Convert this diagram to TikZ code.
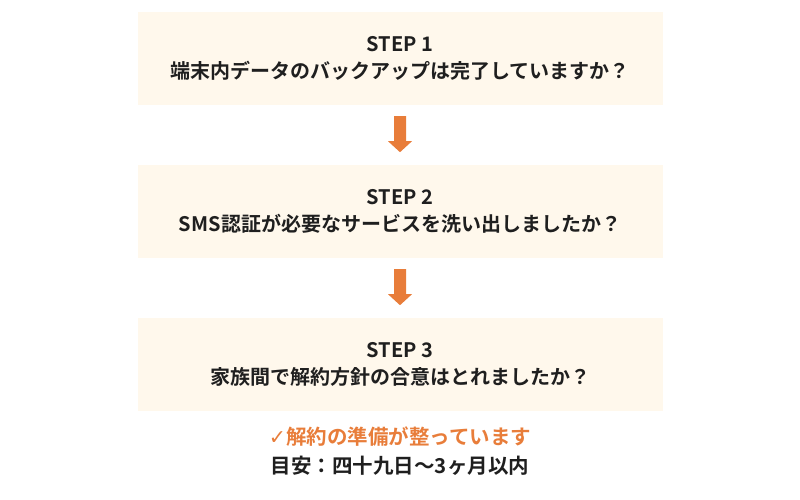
\documentclass[tikz,border=0pt]{standalone}
\usepackage{fontspec}
\setmainfont{Noto Sans CJK JP}[BoldFont={* Bold}]
\newfontfamily\djv{DejaVu Sans}
\definecolor{boxfill}{HTML}{FFF8EC}
\definecolor{org}{HTML}{E87D3A}
\begin{document}
\begin{tikzpicture}[x=1pt,y=-1pt,
  stepbox/.style={fill=boxfill,draw=none,minimum width=525pt,minimum height=93pt,inner sep=0pt,align=center,font=\fontsize{20}{27}\selectfont\bfseries,text=black!88},
  arr/.style={fill=org,draw=none}]
\useasboundingbox (0,0) rectangle (800,500);
\node[stepbox] (s1) at (400,58.5) {STEP 1\\端末内データのバックアップは完了していますか？};
\node[stepbox] (s2) at (400,211.5) {STEP 2\\SMS認証が必要なサービスを洗い出しましたか？};
\node[stepbox] (s3) at (400,364.5) {STEP 3\\家族間で解約方針の合意はとれましたか？};
\foreach \a/\b in {s1/s2,s2/s3}{
  \path (\a.south) ++(0,11) coordinate (t);
  \fill[arr] (t) ++(-6,0) -- ++(12,0) -- ++(0,25) -- ++(6,0) -- ++(-12,11) -- ++(-12,-11) -- ++(6,0) -- cycle;
}
\node[font=\fontsize{20.5}{24}\selectfont\bfseries,text=org] (ok) at (400,437) {{\djv\bfseries ✓}解約の準備が整っています};
\node[font=\fontsize{20.5}{24}\selectfont\bfseries,text=black!88] (aim) at (400,466) {目安：四十九日〜3ヶ月以内};
\end{tikzpicture}
\end{document}
